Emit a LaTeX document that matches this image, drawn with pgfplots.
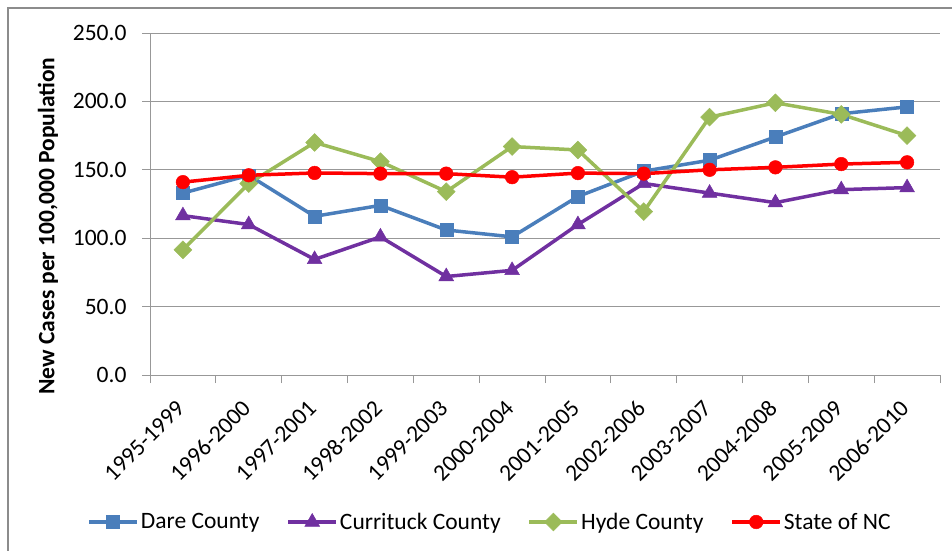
\documentclass[border=0pt]{standalone}
\usepackage{fontspec}
\setmainfont{Carlito}
\usepackage{pgfplots}
\pgfplotsset{compat=1.18}
\definecolor{dare}{HTML}{4A7EBB}
\definecolor{curr}{HTML}{7030A0}
\definecolor{hyde}{HTML}{9BBB59}
\definecolor{ncred}{HTML}{FF0000}
\definecolor{gridc}{HTML}{989898}
\definecolor{framec}{HTML}{8C8C8C}
\begin{document}
\begin{tikzpicture}
\useasboundingbox (0pt,0pt) rectangle (952pt,-550pt);
\draw[framec, line width=2pt] (8pt,-551pt) -- (8pt,-8pt) -- (953pt,-8pt);
\begin{axis}[
  at={(150pt,-375pt)}, anchor=south west,
  scale only axis, width=790pt, height=342pt,
  xmin=-0.5, xmax=11.5, ymin=0, ymax=250,
  ytick={0,50,...,250},
  xtick={0,...,11},
  xticklabels={1995-1999,1996-2000,1997-2001,1998-2002,1999-2003,2000-2004,2001-2005,2002-2006,2003-2007,2004-2008,2005-2009,2006-2010},
  minor xtick={-0.5,0.5,...,11.5},
  major x tick style={draw=none},
  tick align=outside,
  major tick length=8pt, minor tick length=8pt,
  axis lines*=left,
  axis line style={gridc, line width=1pt},
  every tick/.style={gridc, line width=1pt},
  ymajorgrids, major grid style={gridc, line width=1pt},
  font=\fontsize{23.5}{27}\selectfont,
  /pgf/number format/assume math mode=true,
  yticklabel style={/pgf/number format/.cd, fixed, fixed zerofill, precision=1},
  yticklabel shift=12pt,
  xticklabel style={rotate=45, anchor=east},
  xticklabel shift=19pt,
  every axis y label/.style={at={(axis description cs:-0.1291,0.4357)}, anchor=center, rotate=90},
  ylabel={\bfseries New Cases per 100,000 Population},
  legend columns=4,
  legend style={at={(axis description cs:0.4304,-0.4298)}, anchor=center, draw=none, fill=none,
    font=\fontsize{23.5}{27}\selectfont,
    nodes={inner sep=2pt},
    /tikz/every even column/.append style={column sep=25pt}},
  legend cell align=left,
  legend image code/.code={\draw[#1, mark repeat=2, mark phase=2] plot coordinates {(0pt,0pt) (24pt,0pt) (48pt,0pt)};},
  every axis plot/.append style={line width=3.5pt},
]
\addplot[dare, mark=square*, mark size=6.5pt, mark options={line width=0.5pt}] coordinates {
(0,133) (1,146) (2,116) (3,124) (4,106) (5,101) (6,130.5) (7,149) (8,157) (9,174) (10,191) (11,196)};
\addlegendentry{Dare County}
\addplot[curr, mark=triangle*, mark size=8.5pt, mark options={line width=0.5pt}] coordinates {
(0,116.5) (1,110) (2,84.5) (3,101) (4,72) (5,76.5) (6,110) (7,140) (8,133) (9,126) (10,135.5) (11,137)};
\addlegendentry{Currituck County}
\addplot[hyde, mark=square*, mark size=6.3pt, mark options={rotate=45, line width=0.5pt}] coordinates {
(0,91.5) (1,140) (2,170) (3,156) (4,134) (5,167) (6,164.5) (7,119.5) (8,188.5) (9,199) (10,190.5) (11,175)};
\addlegendentry{Hyde County}
\addplot[ncred, mark=*, mark size=6.8pt, mark options={line width=0.5pt}] coordinates {
(0,141) (1,146) (2,147.7) (3,147.2) (4,147.2) (5,144.6) (6,147.6) (7,147.2) (8,150) (9,151.8) (10,154.2) (11,155.5)};
\addlegendentry{State of NC}
\end{axis}
\end{tikzpicture}
\end{document}
